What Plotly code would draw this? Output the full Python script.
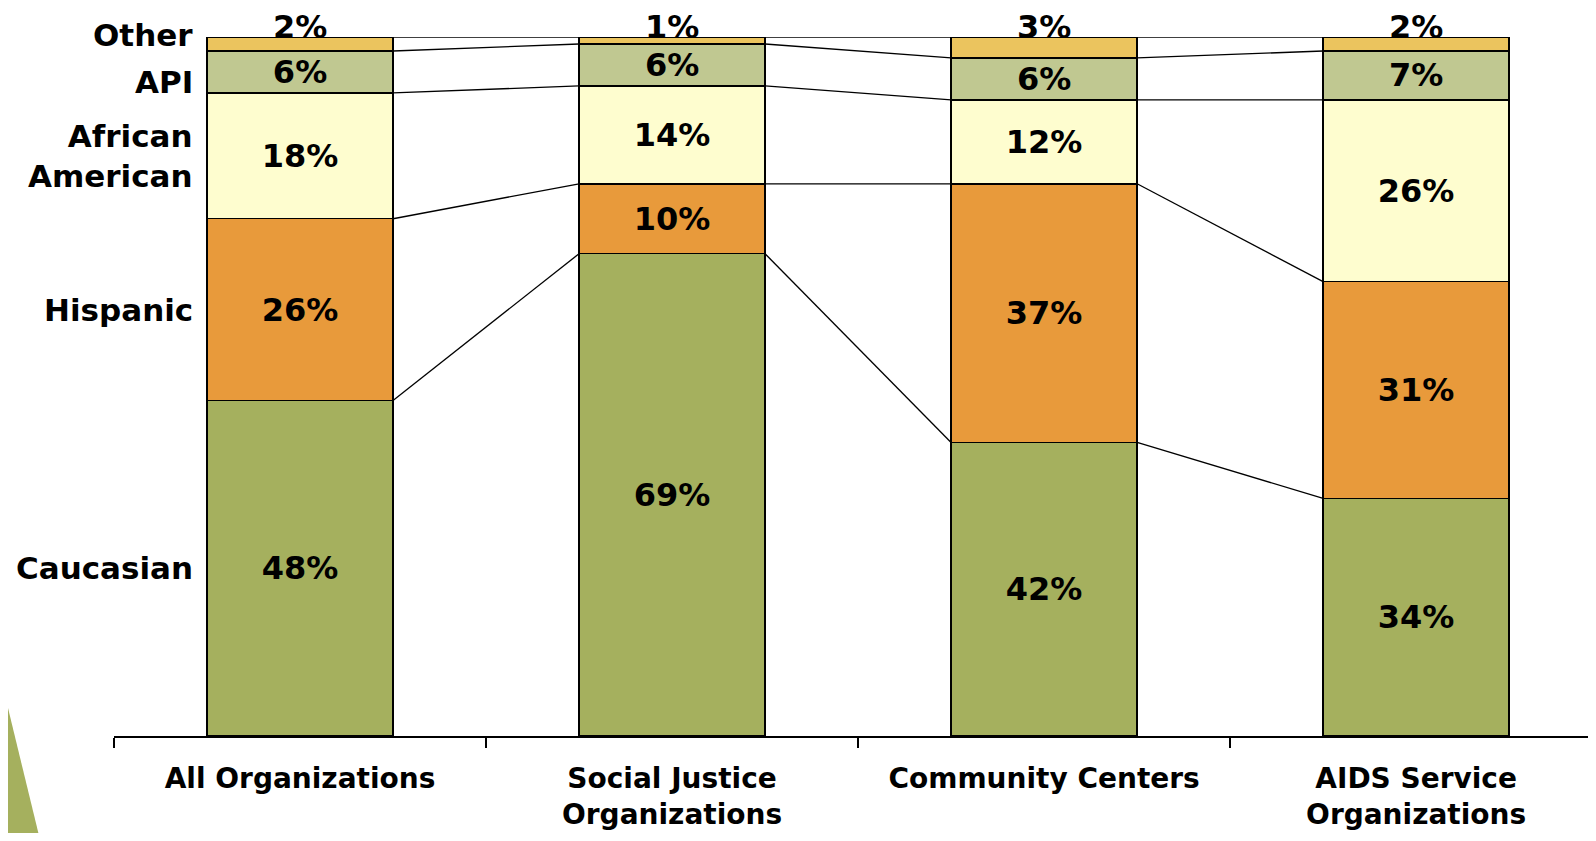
import plotly.graph_objects as go

# ---------------------------------------------------------------------------
# data (percent of staff by race/ethnicity)
categories = ["All Organizations", "Social Justice<br>Organizations",
              "Community Centers", "AIDS Service<br>Organizations"]
caucasian = [48, 69, 42, 34]
hispanic = [26, 10, 37, 31]
african_american = [18, 14, 12, 26]
api = [6, 6, 6, 7]
other = [2, 1, 3, 2]

series_names = ["Caucasian", "Hispanic", "African<br>American", "API", "Other"]
series_values = [caucasian, hispanic, african_american, api, other]
series_colors = ["#A5B05E", "#E89A3B", "#FEFDCF", "#C0C891", "#EBC45E"]

# ---------------------------------------------------------------------------
font_b = dict(family="DejaVu Sans", size=32, color="black", weight="bold")
bar_w = 0.5
x_idx = list(range(len(categories)))

fig = go.Figure()

for name, vals, col in zip(series_names, series_values, series_colors):
    is_top = name == "Other"
    fig.add_trace(go.Bar(
        x=x_idx, y=vals, width=bar_w,
        marker=dict(color=col, line=dict(color="black", width=1.5)),
        texttemplate="%{y}%",
        textposition="none" if is_top else "inside",
        insidetextanchor="middle",
        textangle=0,
        constraintext="none",
        textfont=font_b,
        showlegend=False,
        hoverinfo="skip",
    ))

# series lines joining the segment boundaries of neighbouring bars
cum = [0] * len(categories)
for vals in series_values:
    cum = [c + v for c, v in zip(cum, vals)]
    xs, ys = [], []
    for i in range(len(categories) - 1):
        xs += [i + bar_w / 2, i + 1 - bar_w / 2, None]
        ys += [cum[i], cum[i + 1], None]
    fig.add_trace(go.Scatter(
        x=xs, y=ys, mode="lines",
        line=dict(color="black", width=1.3),
        showlegend=False, hoverinfo="skip", cliponaxis=False,
    ))

# the small "Other" shares sit on top of each stack
for i, v in enumerate(other):
    fig.add_annotation(
        x=i, y=cum[i], xref="x", yref="y",
        text=f"{v}%", showarrow=False,
        yanchor="bottom", yshift=-10, borderpad=0,
        font=font_b,
    )

# row labels to the left of the first bar
base = 0
label_shift = {"Other": 9, "API": -10}
for name, vals in zip(series_names, series_values):
    mid = base + vals[0] / 2
    base += vals[0]
    fig.add_annotation(
        x=-bar_w / 2, y=mid, xref="x", yref="y",
        text=name, showarrow=False,
        xanchor="right", yanchor="middle", align="right",
        xshift=-12, yshift=label_shift.get(name, 0),
        font=dict(family="DejaVu Sans", size=31, color="black", weight="bold"),
    )

# slide decoration in the lower-left corner
fig.add_shape(
    type="path", xref="paper", yref="paper", layer="below",
    path="M -0.077 0.084 L -0.0499 -0.151 L -0.077 -0.151 Z",
    fillcolor="#A5B05E", line=dict(width=0),
)

fig.update_layout(
    width=1580, height=825,
    margin=dict(l=106, r=0, t=29, b=97),
    barmode="stack",
    plot_bgcolor="white", paper_bgcolor="white",
    xaxis=dict(
        range=[-0.5, 3.462],
        automargin=False,
        tickmode="array", tickvals=x_idx, ticktext=categories,
        ticks="outside", ticklen=16, tickcolor="rgba(0,0,0,0)",
        tickfont=dict(family="DejaVu Sans", size=28, color="black", weight="bold"),
        showline=True, linecolor="black", linewidth=2,
        showgrid=False, zeroline=False,
        minor=dict(tickmode="array", tickvals=[-0.5, 0.5, 1.5, 2.5],
                   ticks="outside", ticklen=10, tickwidth=2, tickcolor="black",
                   showgrid=False),
    ),
    yaxis=dict(range=[0, 100], visible=False, showgrid=False, zeroline=False),
)

fig.write_html("out.html")
